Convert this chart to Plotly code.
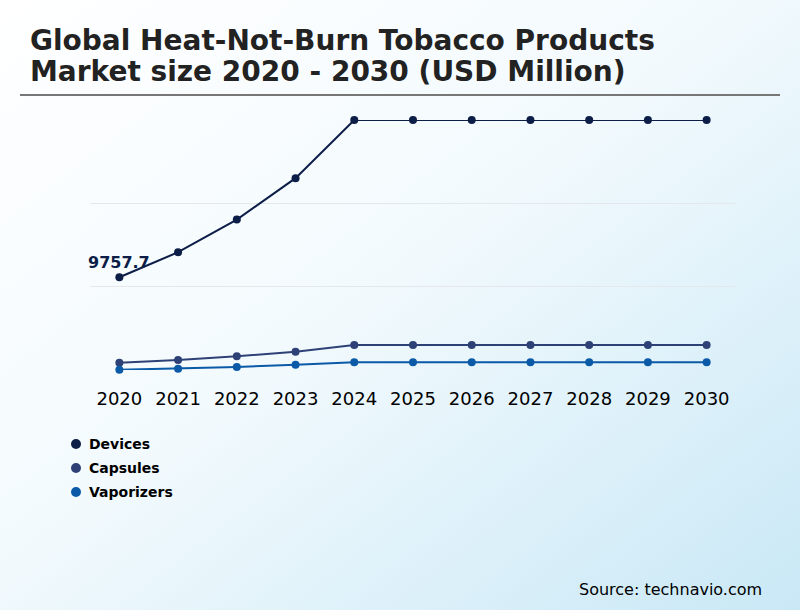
import base64
import plotly.graph_objects as go

# market size values (USD million)
years = ["2020", "2021", "2022", "2023", "2024", "2025", "2026", "2027", "2028", "2029", "2030"]
devices = [9757.7, 12390, 15820, 20180, 26300, 26300, 26300, 26300, 26300, 26300, 26300]
capsules = [770, 1050, 1440, 1930, 2630, 2630, 2630, 2630, 2630, 2630, 2630]
vaporizers = [20, 140, 320, 560, 810, 810, 810, 810, 810, 810, 810]

series_names = ["Devices", "Capsules", "Vaporizers"]
series_colors = ["#0c1d47", "#2e4176", "#0b5aa8"]
y_top = 26300

title_lines = ["Global Heat-Not-Burn Tobacco Products", "Market size 2020 - 2030 (USD Million)"]

# plot area in pixels, used to place the paper-referenced extras
PL, PR, PT, PB = 90, 736, 120, 370
PW, PH = PR - PL, PB - PT


def px_x(x):
    return (x - PL) / PW


def px_y(y):
    return (PB - y) / PH


# soft diagonal background gradient (white -> light blue)
svg = (
    '<svg xmlns="http://www.w3.org/2000/svg" width="800" height="610">'
    '<defs><linearGradient id="g" x1="0" y1="0" x2="1" y2="1">'
    '<stop offset="0" stop-color="#ffffff"/>'
    '<stop offset="0.45" stop-color="#f3fafd"/>'
    '<stop offset="1" stop-color="#c9e8f6"/>'
    '</linearGradient></defs>'
    '<rect width="800" height="610" fill="url(#g)"/></svg>'
)
bg_src = "data:image/svg+xml;base64," + base64.b64encode(svg.encode()).decode()

fig = go.Figure()

for name, vals, col in zip(series_names, [devices, capsules, vaporizers], series_colors):
    fig.add_trace(go.Scatter(
        x=years, y=vals, mode="lines+markers", name=name,
        line=dict(color=col, width=2), marker=dict(color=col, size=8),
        showlegend=False, cliponaxis=False,
    ))

# value label on the first Devices point (category index 0 = first year)
fig.add_annotation(x=years.index(years[0]), y=devices[0], xref="x", yref="y",
                   text="<b>" + str(devices[0]) + "</b>",
                   showarrow=False, yshift=15, font=dict(size=16, color="#0c1d47"))

# title, one annotation per line to keep the tight line spacing
for i, line in enumerate(title_lines):
    fig.add_annotation(xref="paper", yref="paper", x=px_x(28), y=px_y(41 + 30 * i),
                       xanchor="left", yanchor="middle", showarrow=False,
                       text="<b>" + line + "</b>", font=dict(size=28, color="#222222"))

# hand-made legend (dot + bold label)
for i, (name, col) in enumerate(zip(series_names, series_colors)):
    yy = 444 + 24 * i
    fig.add_shape(type="circle", xref="paper", yref="paper",
                  x0=px_x(71), x1=px_x(81), y0=px_y(yy - 5), y1=px_y(yy + 5),
                  fillcolor=col, line=dict(width=0))
    fig.add_annotation(xref="paper", yref="paper", x=px_x(87), y=px_y(yy),
                       xanchor="left", yanchor="middle", showarrow=False,
                       text="<b>" + name + "</b>", font=dict(size=14, color="#000000"))

fig.add_annotation(xref="paper", yref="paper", x=px_x(764), y=px_y(589),
                   xanchor="right", yanchor="middle", showarrow=False,
                   text="Source: technavio.com", font=dict(size=16, color="#000000"))

# rule under the title
fig.add_shape(type="line", xref="paper", yref="paper",
              x0=px_x(20), x1=px_x(780), y0=px_y(95), y1=px_y(95),
              line=dict(color="#777777", width=2))

fig.add_layout_image(dict(
    source=bg_src, xref="paper", yref="paper",
    x=px_x(0), y=px_y(0), sizex=800 / PW, sizey=610 / PH,
    xanchor="left", yanchor="top", sizing="stretch", layer="below",
))

fig.update_layout(
    width=800, height=610,
    margin=dict(l=PL, r=800 - PR, t=PT, b=610 - PB),
    paper_bgcolor="rgba(0,0,0,0)", plot_bgcolor="rgba(0,0,0,0)",
    font=dict(family="DejaVu Sans", color="#000000"),
    showlegend=False,
    xaxis=dict(type="category", range=[-0.5, 10.5], showgrid=False, zeroline=False,
               showline=False, ticks="outside", ticklen=12, tickcolor="rgba(0,0,0,0)",
               tickfont=dict(size=18, color="#000000")),
    yaxis=dict(range=[0, y_top], dtick=y_top / 3, showticklabels=False,
               gridcolor="#e4e8ec", gridwidth=1, zeroline=False, showline=False),
)

fig.write_html("out.html", config={"displayModeBar": False},
               post_script="document.body.style.margin='0';")
